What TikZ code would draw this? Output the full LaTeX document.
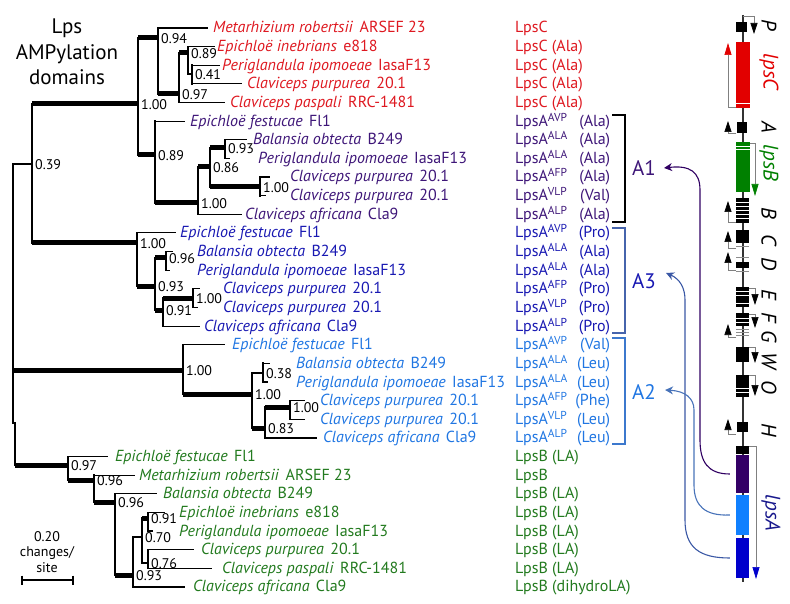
\documentclass[tikz,border=0pt]{standalone}
\usepackage{fontspec}
\setmainfont{PT Sans}
\usetikzlibrary{arrows.meta}
\definecolor{lpscred}{RGB}{222, 24, 32}
\definecolor{aone}{RGB}{62, 22, 120}
\definecolor{athree}{RGB}{24, 24, 178}
\definecolor{atwo}{RGB}{32, 118, 226}
\definecolor{lpsbgreen}{RGB}{34, 122, 30}
\definecolor{genered}{RGB}{226, 0, 0}
\definecolor{genegreen}{RGB}{0, 128, 0}
\definecolor{genepurple}{RGB}{52, 0, 102}
\definecolor{genelight}{RGB}{16, 128, 255}
\definecolor{geneblue}{RGB}{0, 0, 204}
\definecolor{genelabel}{RGB}{24, 24, 140}
\definecolor{linkone}{RGB}{48, 0, 98}
\definecolor{linkthree}{RGB}{58, 88, 165}
\definecolor{linktwo}{RGB}{72, 115, 185}
\definecolor{bracketthree}{RGB}{70, 100, 172}
\definecolor{brackettwo}{RGB}{60, 120, 205}
\def\fsname{\fontsize{16}{19}\selectfont}
\def\fssupp{\fontsize{14}{16}\selectfont}
\def\fstitle{\fontsize{21}{25.5}\selectfont}
\def\fsdom{\fontsize{21}{24}\selectfont}
\def\fsgene{\fontsize{21}{24}\selectfont}
\newcommand{\taxon}[1]{\textit{#1}\hspace{0.4em}}
\newcommand{\lpsa}[2]{\makebox[95pt][s]{LpsA\raisebox{5pt}{\fontsize{11.5}{12}\selectfont #1}\hfill(#2)}}

\begin{document}
\begin{tikzpicture}[x=1pt, y=-1pt,
    leaf/.style={anchor=base west, inner sep=0pt, yshift=-5pt, font=\fsname},
    supp/.style={anchor=west, inner sep=0pt, xshift=3pt, yshift=-1pt, font=\fssupp},
    brthin/.style={line width=1.2pt},
    brthick/.style={line width=5pt},
    vbar/.style={line width=1.8pt, line cap=rect},
    dlab/.style={font=\fsdom, inner sep=2pt},
    gene/.style={rotate=-90, inner sep=0pt, font=\fsgene\itshape},
    orf/.style={draw=black!50, line width=0.7pt},
    dom/.style={inner sep=0pt, minimum width=13pt},
    link/.style={line width=1.1pt, -{Stealth[length=8pt, width=8pt]}},
    bracket/.style={line width=1.3pt}]

    \useasboundingbox (0,0) rectangle (790,604);

    % title and scale
    \node[font=\fstitle, align=center] (title) at (67,52) {Lps\\AMPylation\\domains};
    \node[font=\fssupp] (sclen) at (47,537) {0.20};
    \node[font=\fssupp, align=center] (scunit) at (47,560) {changes/\\site};
    \coordinate (barL) at (22,580);
    \coordinate (barR) at (73,580);
    \draw[line width=2pt] (barL) -- (barR);
    \draw[line width=1.5pt] ([yshift=4.5pt]barL) -- ([yshift=-4.5pt]barL);
    \draw[line width=1.5pt] ([yshift=4.5pt]barR) -- ([yshift=-4.5pt]barR);

    % internal nodes
    \coordinate (rootA) at (13,423);
    \coordinate (rootB) at (15,423);
    \coordinate (n039) at (32,164);
    \coordinate (n100r) at (138,104);
    \coordinate (n094) at (158,38);
    \coordinate (n097r) at (179,94);
    \coordinate (n089r) at (188,53);
    \coordinate (n041) at (192,74);
    \coordinate (n089p) at (155,155);
    \coordinate (n100p) at (198,203);
    \coordinate (n086) at (210,167);
    \coordinate (n093p) at (225,148);
    \coordinate (n100pp) at (260,187);
    \coordinate (n100b) at (137,243);
    \coordinate (n093b) at (155,286);
    \coordinate (n096b) at (166,258);
    \coordinate (n091b) at (163,310);
    \coordinate (n100bb) at (193,298);
    \coordinate (n100lb) at (183,370);
    \coordinate (n100lb2) at (252,394);
    \coordinate (n038) at (263,373);
    \coordinate (n083) at (265,428);
    \coordinate (n100lb3) at (290,407);
    \coordinate (n097g) at (68,465);
    \coordinate (n096g1) at (94,480);
    \coordinate (n096g2) at (115,502);
    \coordinate (n093g) at (133,575);
    \coordinate (n070) at (142,537);
    \coordinate (n091g) at (148,518);
    \coordinate (n076) at (148,563);

    % leaf tips
    \coordinate (t1) at (208,28.0);
    \coordinate (t2) at (215,46.6);
    \coordinate (t3) at (220,65.3);
    \coordinate (t4) at (242,83.9);
    \coordinate (t5) at (225,102.5);
    \coordinate (t6) at (185,121.2);
    \coordinate (t7) at (247,139.8);
    \coordinate (t8) at (230,158.4);
    \coordinate (t9) at (270,177.0);
    \coordinate (t10) at (266,195.7);
    \coordinate (t11) at (242,214.3);
    \coordinate (t12) at (176,232.9);
    \coordinate (t13) at (173,251.6);
    \coordinate (t14) at (170,270.2);
    \coordinate (t15) at (200,288.8);
    \coordinate (t16) at (198,307.5);
    \coordinate (t17) at (200,326.1);
    \coordinate (t18) at (225,344.7);
    \coordinate (t19) at (270,363.3);
    \coordinate (t20) at (268,382.0);
    \coordinate (t21) at (305,400.6);
    \coordinate (t22) at (305,419.2);
    \coordinate (t23) at (317,437.9);
    \coordinate (t24) at (108,456.5);
    \coordinate (t25) at (135,475.1);
    \coordinate (t26) at (157,493.8);
    \coordinate (t27) at (165,512.4);
    \coordinate (t28) at (153,531.0);
    \coordinate (t29) at (194,549.6);
    \coordinate (t30) at (212,568.3);
    \coordinate (t31) at (185,586.9);

    % vertical bars
    \draw[vbar] (rootA |- n039) -- (rootA);
    \draw[vbar] (rootB) -- (rootB |- n097g);
    \draw[vbar] (n039 |- n100r) -- (n039 |- n100b);
    \draw[vbar] (n100r |- n094) -- (n100r |- n089p);
    \draw[vbar] (n094 |- t1) -- (n094 |- n097r);
    \draw[vbar] (n097r |- n089r) -- (n097r |- t5);
    \draw[vbar] (n089r |- t2) -- (n089r |- n041);
    \draw[vbar] (n041 |- t3) -- (n041 |- t4);
    \draw[vbar] (n089p |- t6) -- (n089p |- n100p);
    \draw[vbar] (n100p |- n086) -- (n100p |- t11);
    \draw[vbar] (n086 |- n093p) -- (n086 |- n100pp);
    \draw[vbar] (n093p |- t7) -- (n093p |- t8);
    \draw[vbar] (n100pp |- t9) -- (n100pp |- t10);
    \draw[vbar] (n100b |- t12) -- (n100b |- n093b);
    \draw[vbar] (n093b |- n096b) -- (n093b |- n091b);
    \draw[vbar] (n096b |- t13) -- (n096b |- t14);
    \draw[vbar] (n091b |- n100bb) -- (n091b |- t17);
    \draw[vbar] (n100bb |- t15) -- (n100bb |- t16);
    \draw[vbar] (n100lb |- t18) -- (n100lb |- n100lb2);
    \draw[vbar] (n100lb2 |- n038) -- (n100lb2 |- n083);
    \draw[vbar] (n038 |- t19) -- (n038 |- t20);
    \draw[vbar] (n083 |- n100lb3) -- (n083 |- t23);
    \draw[vbar] (n100lb3 |- t21) -- (n100lb3 |- t22);
    \draw[vbar] (n097g |- t24) -- (n097g |- n096g1);
    \draw[vbar] (n096g1 |- t25) -- (n096g1 |- n096g2);
    \draw[vbar] (n096g2 |- t26) -- (n096g2 |- n093g);
    \draw[vbar] (n093g |- n070) -- (n093g |- t31);
    \draw[vbar] (n070 |- n091g) -- (n070 |- n076);
    \draw[vbar] (n091g |- t27) -- (n091g |- t28);
    \draw[vbar] (n076 |- t29) -- (n076 |- t30);

    % well supported branches
    \draw[brthick] (rootA |- n100lb) -- (n100lb);
    \draw[brthick] (rootB |- n097g) -- (n097g);
    \draw[brthick] (n039 |- n100r) -- (n100r);
    \draw[brthick] (n039 |- n100b) -- (n100b);
    \draw[brthick] (n100r |- n094) -- (n094);
    \draw[brthick] (n100r |- n089p) -- (n089p);
    \draw[brthick] (n094 |- n097r) -- (n097r);
    \draw[brthick] (n097r |- n089r) -- (n089r);
    \draw[brthick] (n089p |- n100p) -- (n100p);
    \draw[brthick] (n100p |- n086) -- (n086);
    \draw[brthick] (n086 |- n093p) -- (n093p);
    \draw[brthick] (n086 |- n100pp) -- (n100pp);
    \draw[brthick] (n100b |- n093b) -- (n093b);
    \draw[brthick] (n093b |- n096b) -- (n096b);
    \draw[brthick] (n093b |- n091b) -- (n091b);
    \draw[brthick] (n091b |- n100bb) -- (n100bb);
    \draw[brthick] (n100lb |- n100lb2) -- (n100lb2);
    \draw[brthick] (n100lb2 |- n083) -- (n083);
    \draw[brthick] (n083 |- n100lb3) -- (n100lb3);
    \draw[brthick] (n097g |- n096g1) -- (n096g1);
    \draw[brthick] (n096g1 |- n096g2) -- (n096g2);
    \draw[brthick] (n096g2 |- n093g) -- (n093g);
    \draw[brthick] (n070 |- n091g) -- (n091g);

    % other branches
    \draw[brthin] (rootA |- n039) -- (n039);
    \draw[brthin] (n089r |- n041) -- (n041);
    \draw[brthin] (n100lb2 |- n038) -- (n038);
    \draw[brthin] (n093g |- n070) -- (n070);
    \draw[brthin] (n070 |- n076) -- (n076);
    \draw[brthin] (n094 |- t1) -- (t1);
    \draw[brthin] (n089r |- t2) -- (t2);
    \draw[brthin] (n041 |- t3) -- (t3);
    \draw[brthin] (n041 |- t4) -- (t4);
    \draw[brthin] (n097r |- t5) -- (t5);
    \draw[brthin] (n089p |- t6) -- (t6);
    \draw[brthin] (n093p |- t7) -- (t7);
    \draw[brthin] (n093p |- t8) -- (t8);
    \draw[brthin] (n100pp |- t9) -- (t9);
    \draw[brthin] (n100pp |- t10) -- (t10);
    \draw[brthin] (n100p |- t11) -- (t11);
    \draw[brthin] (n100b |- t12) -- (t12);
    \draw[brthin] (n096b |- t13) -- (t13);
    \draw[brthin] (n096b |- t14) -- (t14);
    \draw[brthin] (n100bb |- t15) -- (t15);
    \draw[brthin] (n100bb |- t16) -- (t16);
    \draw[brthin] (n091b |- t17) -- (t17);
    \draw[brthin] (n100lb |- t18) -- (t18);
    \draw[brthin] (n038 |- t19) -- (t19);
    \draw[brthin] (n038 |- t20) -- (t20);
    \draw[brthin] (n100lb3 |- t21) -- (t21);
    \draw[brthin] (n100lb3 |- t22) -- (t22);
    \draw[brthin] (n083 |- t23) -- (t23);
    \draw[brthin] (n097g |- t24) -- (t24);
    \draw[brthin] (n096g1 |- t25) -- (t25);
    \draw[brthin] (n096g2 |- t26) -- (t26);
    \draw[brthin] (n091g |- t27) -- (t27);
    \draw[brthin] (n091g |- t28) -- (t28);
    \draw[brthin] (n076 |- t29) -- (t29);
    \draw[brthin] (n076 |- t30) -- (t30);
    \draw[brthin] (n093g |- t31) -- (t31);

    % support values
    \node[supp] (s039) at (n039) {0.39};
    \node[supp] (s100r) at (n100r) {1.00};
    \node[supp] (s094) at (n094) {0.94};
    \node[supp] (s097r) at (n097r) {0.97};
    \node[supp] (s089r) at (n089r) {0.89};
    \node[supp] (s041) at (n041) {0.41};
    \node[supp] (s089p) at (n089p) {0.89};
    \node[supp] (s100p) at (n100p) {1.00};
    \node[supp] (s086) at (n086) {0.86};
    \node[supp] (s093p) at (n093p) {0.93};
    \node[supp] (s100pp) at (n100pp) {1.00};
    \node[supp] (s100b) at (n100b) {1.00};
    \node[supp] (s093b) at (n093b) {0.93};
    \node[supp] (s096b) at (n096b) {0.96};
    \node[supp] (s091b) at (n091b) {0.91};
    \node[supp] (s100bb) at (n100bb) {1.00};
    \node[supp] (s100lb) at (n100lb) {1.00};
    \node[supp] (s100lb2) at (n100lb2) {1.00};
    \node[supp] (s038) at (n038) {0.38};
    \node[supp] (s083) at (n083) {0.83};
    \node[supp] (s100lb3) at (n100lb3) {1.00};
    \node[supp] (s097g) at (n097g) {0.97};
    \node[supp] (s096g1) at (n096g1) {0.96};
    \node[supp] (s096g2) at (n096g2) {0.96};
    \node[supp] (s093g) at (n093g) {0.93};
    \node[supp] (s070) at (n070) {0.70};
    \node[supp] (s091g) at (n091g) {0.91};
    \node[supp] (s076) at (n076) {0.76};

    % LpsC
    \node[leaf, lpscred] (l1) at (213,28.0) {\taxon{Metarhizium robertsii}ARSEF 23};
    \node[leaf, lpscred] (l2) at (217,46.6) {\taxon{Epichloë inebrians}e818};
    \node[leaf, lpscred] (l3) at (222,65.3) {\taxon{Periglandula ipomoeae}IasaF13};
    \node[leaf, lpscred] (l4) at (247,83.9) {\taxon{Claviceps purpurea}20.1};
    \node[leaf, lpscred] (l5) at (230,102.5) {\taxon{Claviceps paspali}RRC-1481};
    % LpsA, A1
    \node[leaf, aone] (l6) at (190,121.2) {\taxon{Epichloë festucae}Fl1};
    \node[leaf, aone] (l7) at (253,139.8) {\taxon{Balansia obtecta}B249};
    \node[leaf, aone] (l8) at (258,158.4) {\taxon{Periglandula ipomoeae}IasaF13};
    \node[leaf, aone] (l9) at (290,177.0) {\taxon{Claviceps purpurea}20.1};
    \node[leaf, aone] (l10) at (290,195.7) {\taxon{Claviceps purpurea}20.1};
    \node[leaf, aone] (l11) at (245,214.3) {\taxon{Claviceps africana}Cla9};
    % LpsA, A3
    \node[leaf, athree] (l12) at (180,232.9) {\taxon{Epichloë festucae}Fl1};
    \node[leaf, athree] (l13) at (197,251.6) {\taxon{Balansia obtecta}B249};
    \node[leaf, athree] (l14) at (197,270.2) {\taxon{Periglandula ipomoeae}IasaF13};
    \node[leaf, athree] (l15) at (223,288.8) {\taxon{Claviceps purpurea}20.1};
    \node[leaf, athree] (l16) at (223,307.5) {\taxon{Claviceps purpurea}20.1};
    \node[leaf, athree] (l17) at (204,326.1) {\taxon{Claviceps africana}Cla9};
    % LpsA, A2
    \node[leaf, atwo] (l18) at (232,344.7) {\taxon{Epichloë festucae}Fl1};
    \node[leaf, atwo] (l19) at (296,363.3) {\taxon{Balansia obtecta}B249};
    \node[leaf, atwo] (l20) at (296,382.0) {\taxon{Periglandula ipomoeae}IasaF13};
    \node[leaf, atwo] (l21) at (320,400.6) {\taxon{Claviceps purpurea}20.1};
    \node[leaf, atwo] (l22) at (320,419.2) {\taxon{Claviceps purpurea}20.1};
    \node[leaf, atwo] (l23) at (323,437.9) {\taxon{Claviceps africana}Cla9};
    % LpsB
    \node[leaf, lpsbgreen] (l24) at (115,456.5) {\taxon{Epichloë festucae}Fl1};
    \node[leaf, lpsbgreen] (l25) at (139,475.1) {\taxon{Metarhizium robertsii}ARSEF 23};
    \node[leaf, lpsbgreen] (l26) at (163,493.8) {\taxon{Balansia obtecta}B249};
    \node[leaf, lpsbgreen] (l27) at (179,512.4) {\taxon{Epichloë inebrians}e818};
    \node[leaf, lpsbgreen] (l28) at (179,531.0) {\taxon{Periglandula ipomoeae}IasaF13};
    \node[leaf, lpsbgreen] (l29) at (201,549.6) {\taxon{Claviceps purpurea}20.1};
    \node[leaf, lpsbgreen] (l30) at (222,568.3) {\taxon{Claviceps paspali}RRC-1481};
    \node[leaf, lpsbgreen] (l31) at (193,586.9) {\taxon{Claviceps africana}Cla9};

    % proteins
    \node[leaf, lpscred] (p1) at (515,28.0) {LpsC};
    \node[leaf, lpscred] (p2) at (515,46.6) {LpsC (Ala)};
    \node[leaf, lpscred] (p3) at (515,65.3) {LpsC (Ala)};
    \node[leaf, lpscred] (p4) at (515,83.9) {LpsC (Ala)};
    \node[leaf, lpscred] (p5) at (515,102.5) {LpsC (Ala)};
    \node[leaf, aone] (p6) at (515,121.2) {\lpsa{AVP}{Ala}};
    \node[leaf, aone] (p7) at (515,139.8) {\lpsa{ALA}{Ala}};
    \node[leaf, aone] (p8) at (515,158.4) {\lpsa{ALA}{Ala}};
    \node[leaf, aone] (p9) at (515,177.0) {\lpsa{AFP}{Ala}};
    \node[leaf, aone] (p10) at (515,195.7) {\lpsa{VLP}{Val}};
    \node[leaf, aone] (p11) at (515,214.3) {\lpsa{ALP}{Ala}};
    \node[leaf, athree] (p12) at (515,232.9) {\lpsa{AVP}{Pro}};
    \node[leaf, athree] (p13) at (515,251.6) {\lpsa{ALA}{Ala}};
    \node[leaf, athree] (p14) at (515,270.2) {\lpsa{ALA}{Ala}};
    \node[leaf, athree] (p15) at (515,288.8) {\lpsa{AFP}{Pro}};
    \node[leaf, athree] (p16) at (515,307.5) {\lpsa{VLP}{Pro}};
    \node[leaf, athree] (p17) at (515,326.1) {\lpsa{ALP}{Pro}};
    \node[leaf, atwo] (p18) at (515,344.7) {\lpsa{AVP}{Val}};
    \node[leaf, atwo] (p19) at (515,363.3) {\lpsa{ALA}{Leu}};
    \node[leaf, atwo] (p20) at (515,382.0) {\lpsa{ALA}{Leu}};
    \node[leaf, atwo] (p21) at (515,400.6) {\lpsa{AFP}{Phe}};
    \node[leaf, atwo] (p22) at (515,419.2) {\lpsa{VLP}{Leu}};
    \node[leaf, atwo] (p23) at (515,437.9) {\lpsa{ALP}{Leu}};
    \node[leaf, lpsbgreen] (p24) at (515,456.5) {LpsB (LA)};
    \node[leaf, lpsbgreen] (p25) at (515,475.1) {LpsB};
    \node[leaf, lpsbgreen] (p26) at (515,493.8) {LpsB (LA)};
    \node[leaf, lpsbgreen] (p27) at (515,512.4) {LpsB (LA)};
    \node[leaf, lpsbgreen] (p28) at (515,531.0) {LpsB (LA)};
    \node[leaf, lpsbgreen] (p29) at (515,549.6) {LpsB (LA)};
    \node[leaf, lpsbgreen] (p30) at (515,568.3) {LpsB (LA)};
    \node[leaf, lpsbgreen] (p31) at (515,586.9) {LpsB (dihydroLA)};

    % domain brackets
    \draw[bracket, black] (612,115) -- (625,115) -- (625,222) -- (612,222);
    \draw[bracket, bracketthree] (612,228) -- (625,228) -- (625,333) -- (612,333);
    \draw[bracket, brackettwo] (612,338) -- (625,338) -- (625,444) -- (612,444);
    \node[dlab, aone] (A1) at (644,168) {A1};
    \node[dlab, athree] (A3) at (644,281) {A3};
    \node[dlab, atwo] (A2) at (644,392) {A2};

    % gene cluster
    \draw[line width=1.5pt, black!80] (743,15) -- (743,582);
    \fill (736,22) rectangle (747,32);
    \fill[genered] (736,42) rectangle (750,108);
    \draw[white, line width=0.8pt] (736,103) -- (750,103);
    \fill (737,122) rectangle (747,133);
    \fill[genegreen] (736,142) rectangle (750,192);
    \draw[white, line width=0.8pt] (736,146) -- (750,146) (736,149) -- (750,149);
    \fill (736,198) rectangle (749,223);
    \draw[white, line width=0.7pt] (736,202) -- (749,202) (736,206) -- (749,206)
        (736,210) -- (749,210) (736,214) -- (749,214) (736,218) -- (749,218);
    \fill (736,230) rectangle (749,243);
    \draw[black!45, line width=0.7pt] (736,246) -- (749,246);
    \fill (736,262) rectangle (749,268);
    \draw[black!45, line width=0.7pt] (736,257) -- (749,257) (736,271) -- (749,271);
    \fill (736,287) rectangle (749,307);
    \draw[white, line width=0.7pt] (736,291) -- (749,291) (736,295) -- (749,295) (736,303) -- (749,303);
    \fill (736,313) rectangle (749,326);
    \draw[white, line width=0.7pt] (736,318) -- (749,318) (736,322) -- (749,322);
    \draw[black!45, line width=0.7pt] (736,329) -- (749,329) (736,332) -- (749,332) (736,335) -- (749,335);
    \fill (736,347) rectangle (749,362);
    \fill (736,375) rectangle (749,397);
    \draw[white, line width=0.7pt] (736,388) -- (749,388) (736,392) -- (749,392);
    \fill (737,422) rectangle (748,432);
    \fill (736,446) rectangle (749,454);
    \node[dom, fill=genepurple, minimum height=38pt] (dA1) at (742.5,474) {};
    \node[dom, fill=genelight, minimum height=40pt] (dA2) at (742.5,515) {};
    \node[dom, fill=geneblue, minimum height=40pt] (dA3) at (742.5,558) {};

    % reading direction
    \draw[orf, -{Triangle[length=11pt, width=7pt, color=black]}] (743,16) -- (754,16) -- (754,34);
    \draw[orf, -{Triangle[length=12pt, width=7pt, color=genered]}] (736,107) -- (728,107) -- (728,43);
    \draw[orf, -{Triangle[length=11pt, width=7pt, color=black]}] (736,133) -- (728,133) -- (728,121);
    \draw[orf, -{Triangle[length=12pt, width=7pt, color=genegreen]}] (750,143) -- (755,143) -- (755,196);
    \draw[orf, -{Triangle[length=11pt, width=7pt, color=black]}] (736,222) -- (728,222) -- (728,201);
    \draw[orf, -{Triangle[length=11pt, width=7pt, color=black]}] (736,248) -- (728,248) -- (728,231);
    \draw[orf, -{Triangle[length=11pt, width=7pt, color=black]}] (736,270) -- (728,270) -- (728,252);
    \draw[orf, -{Triangle[length=11pt, width=7pt, color=black]}] (749,288) -- (755,288) -- (755,305);
    \draw[orf, -{Triangle[length=11pt, width=7pt, color=black]}] (749,314) -- (755,314) -- (755,328);
    \draw[orf, -{Triangle[length=11pt, width=7pt, color=black]}] (736,337) -- (728,337) -- (728,324);
    \draw[orf, -{Triangle[length=11pt, width=7pt, color=black]}] (749,347) -- (755,347) -- (755,363);
    \draw[orf, -{Triangle[length=11pt, width=7pt, color=black]}] (749,375) -- (755,375) -- (755,396);
    \draw[orf, -{Triangle[length=11pt, width=7pt, color=black]}] (736,434) -- (728,434) -- (728,419);
    \draw[orf, -{Triangle[length=12pt, width=7pt, color=geneblue]}] (749,446) -- (756,446) -- (756,579);

    % gene names
    \node[gene] (gP) at (769,25) {P};
    \node[gene, genered] (gC) at (769,72) {lpsC};
    \node[gene] (gA) at (769,127) {A};
    \node[gene, genegreen] (gB) at (769,163) {lpsB};
    \node[gene] (gdB) at (769,213) {B};
    \node[gene] (gdC) at (769,240) {C};
    \node[gene] (gdD) at (769,264) {D};
    \node[gene] (gdE) at (769,295) {E};
    \node[gene] (gdF) at (769,318) {F};
    \node[gene] (gdG) at (769,337) {G};
    \node[gene] (gdW) at (769,361) {W};
    \node[gene] (gdO) at (769,387) {O};
    \node[gene] (gdH) at (769,430) {H};
    \node[gene, genelabel] (gAA) at (771,513) {lpsA};

    % domains to clades
    \draw[link, linkone] ([xshift=-6pt]dA1.west) .. controls (708,474) and (700,462) .. (700,440)
        -- (700,190) .. controls (700,172) and (690,165) .. ([xshift=6pt]A1.east);
    \draw[link, linkthree] ([xshift=-6pt]dA3.west) .. controls (700,558) and (685,548) .. (685,520)
        -- (685,300) .. controls (685,288) and (680,279) .. ([xshift=8pt, yshift=8pt]A3.east);
    \draw[link, linktwo] ([xshift=-6pt]dA2.west) .. controls (705,516) and (694,506) .. (694,485)
        -- (694,410) .. controls (694,398) and (685,391) .. ([xshift=7pt, yshift=2pt]A2.east);

\end{tikzpicture}
\end{document}
